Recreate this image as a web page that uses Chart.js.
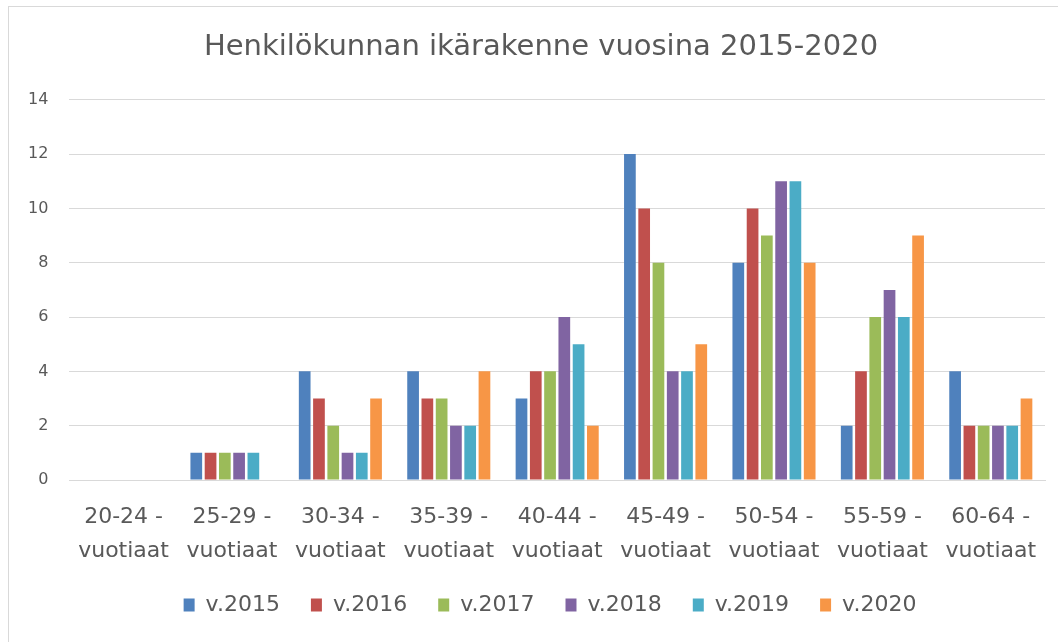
<!DOCTYPE html>
<html>
<head>
<meta charset="utf-8">
<script src="https://cdn.jsdelivr.net/npm/chart.js@4"></script>
<style>
  html, body { margin: 0; padding: 0; background: #fff; overflow: hidden; }
  #frame {
    position: absolute; left: 8px; top: 6px; width: 1100px; height: 700px;
    border: 1px solid #d9d9d9; box-sizing: border-box;
  }
  #wrap { position: absolute; left: 0; top: 0; width: 1058px; height: 642px; }
</style>
</head>
<body>
<div id="frame"></div>
<div id="wrap"><canvas id="chart" width="1058" height="642"></canvas></div>
<script>
// ── Data ──
const categories = [
  ["20-24 -", "vuotiaat"], ["25-29 -", "vuotiaat"], ["30-34 -", "vuotiaat"],
  ["35-39 -", "vuotiaat"], ["40-44 -", "vuotiaat"], ["45-49 -", "vuotiaat"],
  ["50-54 -", "vuotiaat"], ["55-59 -", "vuotiaat"], ["60-64 -", "vuotiaat"],
];
const years = ["v.2015", "v.2016", "v.2017", "v.2018", "v.2019", "v.2020"];

const v2015 = [0, 1, 4, 4, 3, 12, 8, 2, 4];
const v2016 = [0, 1, 3, 3, 4, 10, 10, 4, 2];
const v2017 = [0, 1, 2, 3, 4, 8, 9, 6, 2];
const v2018 = [0, 1, 1, 2, 6, 4, 11, 7, 2];
const v2019 = [0, 1, 1, 2, 5, 4, 11, 6, 2];
const v2020 = [0, 0, 3, 4, 2, 5, 8, 9, 3];

const yTicks = [0, 2, 4, 6, 8, 10, 12, 14];

const colors = ["#4F81BD", "#C0504D", "#9BBB59", "#8064A2", "#4BACC6", "#F79646"];
const series = [v2015, v2016, v2017, v2018, v2019, v2020];

const fam = "'DejaVu Sans', sans-serif";
const grey = "#595959";

// title and legend sit a little right of the plot centre in the original
const nudgeBoxes = {
  id: "nudgeBoxes",
  afterLayout(chart) {
    chart.titleBlock.left += 15;
    chart.titleBlock.right += 15;
    chart.legend.left += 24;
    chart.legend.right += 24;
  },
};

new Chart(document.getElementById("chart"), {
  type: "bar",
  data: {
    labels: categories,
    datasets: series.map((d, i) => ({
      label: years[i],
      data: d,
      backgroundColor: colors[i],
      borderWidth: 0,
      categoryPercentage: 0.79,
      barPercentage: 0.82,
    })),
  },
  options: {
    responsive: false,
    animation: false,
    layout: { padding: { left: 7, right: 13, top: 16, bottom: 16 } },
    plugins: {
      title: {
        display: true,
        text: "Henkilökunnan ikärakenne vuosina 2015-2020",
        color: grey,
        font: { family: fam, size: 29, weight: "normal" },
        padding: { top: 14, bottom: 35 },
      },
      legend: {
        position: "bottom",
        labels: {
          color: grey,
          font: { family: fam, size: 22 },
          boxWidth: 11,
          boxHeight: 13,
          padding: 31,
        },
      },
      tooltip: { enabled: false },
    },
    scales: {
      x: {
        grid: { display: false },
        border: { display: true, color: "#d9d9d9" },
        afterFit: (s) => { s.height = 83; },
        ticks: {
          color: grey,
          font: { family: fam, size: 22, lineHeight: 1.55 },
          padding: 12,
          maxRotation: 0,
          autoSkip: false,
        },
      },
      y: {
        min: 0,
        max: 14,
        afterBuildTicks: (axis) => { axis.ticks = yTicks.map((v) => ({ value: v })); },
        grid: { color: "#d9d9d9", drawTicks: false },
        border: { display: false },
        ticks: { color: grey, font: { family: fam, size: 16 }, padding: 21 },
      },
    },
  },
  plugins: [nudgeBoxes],
});
</script>
</body>
</html>
